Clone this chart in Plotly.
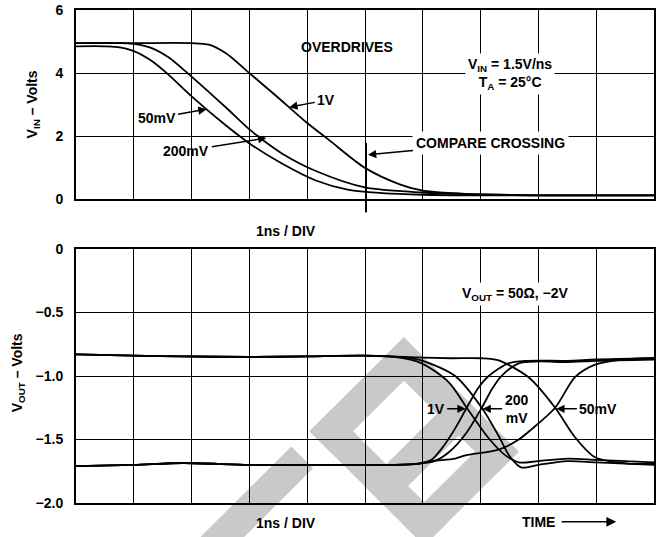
import plotly.graph_objects as go
import math

# ---------------- data ----------------
# Top panel: input voltage vs time (ns), three overdrives
t_in_1v = [0, 1, 2, 2.3, 2.6, 3.0, 3.45, 4.0, 4.38, 5.0, 5.6, 6.0, 6.5, 7.0, 8, 9, 10]
vin_1v = [4.95, 4.95, 4.95, 4.9, 4.62, 4.0, 3.3, 2.42, 1.88, 1.0, 0.48, 0.28, 0.2, 0.16, 0.13, 0.13, 0.13]

t_in_200 = [0, 0.8, 1.03, 1.3, 1.6, 1.93, 2.3, 2.59, 3.0, 3.22, 3.57, 4.15, 5.0, 6.0, 7.0, 8, 10]
vin_200 = [4.95, 4.95, 4.92, 4.8, 4.5, 4.0, 3.4, 2.92, 2.22, 1.9, 1.45, 0.9, 0.38, 0.22, 0.16, 0.13, 0.13]

t_in_50 = [0, 0.5, 0.69, 1.0, 1.3, 1.57, 2.01, 2.59, 3.02, 3.57, 4.15, 4.72, 5.3, 6, 7, 10]
vin_50 = [4.85, 4.85, 4.83, 4.7, 4.4, 4.0, 3.25, 2.35, 1.75, 1.13, 0.6, 0.3, 0.2, 0.15, 0.13, 0.13]

# Bottom panel: output voltage vs time (ns), falling and rising outputs
t_fall_1v = [0, 1, 1.85, 3, 4, 5, 5.5, 5.98, 6.45, 6.76, 7.14, 7.43, 7.66, 8.0, 8.5, 9, 10]
vout_fall_1v = [-0.83, -0.84, -0.845, -0.85, -0.845, -0.84, -0.85, -0.9, -1.05, -1.25, -1.49, -1.625, -1.68, -1.67, -1.65, -1.66, -1.68]

t_fall_200 = [0, 1, 1.85, 3, 4, 5, 5.7, 6.0, 6.56, 7.02, 7.31, 7.5, 7.7, 8.0, 8.5, 9, 10]
vout_fall_200 = [-0.83, -0.84, -0.845, -0.85, -0.845, -0.84, -0.855, -0.88, -1.0, -1.25, -1.47, -1.63, -1.72, -1.7, -1.67, -1.68, -1.7]

t_fall_50 = [0, 1, 1.85, 3, 4, 5, 6, 6.5, 7.0, 7.3, 7.83, 8.29, 8.63, 8.98, 9.55, 10]
vout_fall_50 = [-0.83, -0.84, -0.845, -0.85, -0.845, -0.84, -0.855, -0.86, -0.86, -0.875, -1.01, -1.25, -1.48, -1.64, -1.69, -1.69]

t_rise_1v = [0, 1, 1.85, 3, 4, 5, 5.5, 5.93, 6.15, 6.33, 6.55, 6.76, 6.95, 7.14, 7.48, 7.8, 8.5, 9, 10]
vout_rise_1v = [-1.71, -1.7, -1.685, -1.7, -1.7, -1.7, -1.7, -1.69, -1.66, -1.57, -1.42, -1.25, -1.1, -1.0, -0.9, -0.88, -0.88, -0.87, -0.86]

t_rise_200 = [0, 1, 1.85, 3, 4, 5, 5.5, 5.93, 6.2, 6.45, 6.75, 7.02, 7.2, 7.36, 7.66, 8.0, 8.5, 9, 10]
vout_rise_200 = [-1.71, -1.7, -1.685, -1.7, -1.7, -1.7, -1.7, -1.69, -1.67, -1.6, -1.45, -1.25, -1.1, -1.0, -0.9, -0.885, -0.89, -0.88, -0.87]

t_rise_50 = [0, 1, 1.85, 3, 4, 5, 5.5, 5.93, 6.16, 6.56, 6.74, 7.31, 7.66, 7.88, 8.29, 8.63, 8.98, 9.44, 10]
vout_rise_50 = [-1.71, -1.7, -1.685, -1.7, -1.7, -1.7, -1.7, -1.69, -1.67, -1.65, -1.625, -1.58, -1.5, -1.42, -1.25, -1.01, -0.91, -0.87, -0.857]

top_ticks = [0, 2, 4, 6]
top_ticktext = ["0", "2", "4", "6"]
bot_ticks = [-2.0, -1.5, -1.0, -0.5, 0]
bot_ticktext = ["\u22122.0", "\u22121.5", "\u22121.0", "\u22120.5", "0"]

# ---------------- layout helpers ----------------
W_FIG, H_FIG = 658, 537
ML, MR, MT, MB = 76, 2, 6, 34
PW = W_FIG - ML - MR
PH = H_FIG - MT - MB


def paper(x, y):
    return (x - ML) / PW, (H_FIG - MB - y) / PH


top_dom = [(H_FIG - MB - 197) / PH, 1.0]
bot_dom = [0.0, (H_FIG - MB - 247) / PH]

FONT = "Liberation Sans, Arial, Helvetica, sans-serif"
LW = 1.8

fig = go.Figure()
for xs, ys in [(t_in_1v, vin_1v), (t_in_200, vin_200), (t_in_50, vin_50)]:
    fig.add_trace(go.Scatter(x=xs, y=ys, mode="lines", line=dict(color="black", width=LW, shape="spline", smoothing=0.8),
                             xaxis="x", yaxis="y", showlegend=False, hoverinfo="skip"))
for xs, ys in [(t_fall_1v, vout_fall_1v), (t_fall_200, vout_fall_200), (t_fall_50, vout_fall_50),
               (t_rise_1v, vout_rise_1v), (t_rise_200, vout_rise_200), (t_rise_50, vout_rise_50)]:
    fig.add_trace(go.Scatter(x=xs, y=ys, mode="lines", line=dict(color="black", width=LW, shape="spline", smoothing=0.8),
                             xaxis="x2", yaxis="y2", showlegend=False, hoverinfo="skip"))

axis_common = dict(showgrid=True, gridcolor="black", gridwidth=1, showline=True, linecolor="black",
                   linewidth=2, mirror=True, zeroline=False)

fig.update_layout(
    width=W_FIG, height=H_FIG,
    margin=dict(l=ML, r=MR, t=MT, b=MB),
    paper_bgcolor="white", plot_bgcolor="rgba(0,0,0,0)",
    font=dict(family=FONT, color="black"),
    xaxis=dict(domain=[0, 1], range=[0, 10], dtick=1, tick0=0, showticklabels=False, ticks="", anchor="y", **axis_common),
    yaxis=dict(domain=top_dom, range=[0, 6], tickvals=top_ticks, ticktext=top_ticktext, ticks="outside",
               ticklen=8, tickcolor="rgba(0,0,0,0)", tickfont=dict(size=14, family=FONT, weight="bold"),
               anchor="x", **axis_common),
    xaxis2=dict(domain=[0, 1], range=[0, 10], dtick=1, tick0=0, showticklabels=False, ticks="", anchor="y2", **axis_common),
    yaxis2=dict(domain=bot_dom, range=[-2, 0], tickvals=bot_ticks, ticktext=bot_ticktext, ticks="outside",
                ticklen=8, tickcolor="rgba(0,0,0,0)", tickfont=dict(size=14, family=FONT, weight="bold"),
                anchor="x2", **axis_common),
)

# ---------------- watermark (gray rotated frame) ----------------
WM = "#c9c9c9"
TX, TY = 405, 336          # top vertex of rotated frame (pixels)
A_LEN, B_LEN, WB = 163, 134, 31
S2 = math.sqrt(2)


def rot(u, v):
    return TX + (u - v) / S2, TY + (u + v) / S2


def rect_path(u0, u1, v0, v1):
    pts = [rot(u0, v0), rot(u1, v0), rot(u1, v1), rot(u0, v1)]
    pp = [paper(x, y) for x, y in pts]
    return "M " + " L ".join(f"{a:.4f},{b:.4f}" for a, b in pp) + " Z"


def band(p1, p2, w):
    (x1, y1), (x2, y2) = p1, p2
    dx, dy = x2 - x1, y2 - y1
    L = math.hypot(dx, dy)
    nx, ny = -dy / L * w / 2, dx / L * w / 2
    pts = [(x1 + nx, y1 + ny), (x2 + nx, y2 + ny), (x2 - nx, y2 - ny), (x1 - nx, y1 - ny)]
    pp = [paper(x, y) for x, y in pts]
    return "M " + " L ".join(f"{a:.4f},{b:.4f}" for a, b in pp) + " Z"


wm_paths = [
    rect_path(0, WB, 0, B_LEN),                 # upper-left side
    rect_path(0, A_LEN, 0, WB),                 # upper-right side
    rect_path(A_LEN - WB, A_LEN, 0, B_LEN),     # lower-right side
    rect_path(0, A_LEN, B_LEN - WB, B_LEN),     # lower-left side
    rect_path(78, 78 + WB, 0, B_LEN),           # cross bar
    band((212, 548), (303, 457), WB),           # separate lower-left stroke
]
for p in wm_paths:
    fig.add_shape(type="path", path=p, xref="paper", yref="paper",
                  fillcolor=WM, line=dict(width=0), layer="below")

# compare crossing marker line
x0, y0 = paper(367, 140)
x1, y1 = paper(367, 210)
fig.add_shape(type="line", xref="paper", yref="paper", x0=x0, y0=y0, x1=x1, y1=y1,
              line=dict(color="black", width=2))

# ---------------- annotations ----------------
BF = dict(family=FONT, size=14, color="black", weight="bold")


def text_at(px, py, txt, bg=None, size=14, **kw):
    xp, yp = paper(px, py)
    d = dict(x=xp, y=yp, xref="paper", yref="paper", text=txt, showarrow=False,
             font=dict(BF, size=size), xanchor="center", yanchor="middle")
    if bg:
        d.update(bgcolor=bg, borderpad=2)
    d.update(kw)
    fig.add_annotation(**d)


def arrow_at(hx, hy, tx, ty, txt, size=14):
    xp, yp = paper(hx, hy)
    fig.add_annotation(x=xp, y=yp, xref="paper", yref="paper", text=txt, showarrow=True,
                       ax=tx - hx, ay=ty - hy, arrowhead=2, arrowsize=1.1, arrowwidth=1.5,
                       arrowcolor="black", font=dict(BF, size=size), standoff=0, startstandoff=1)


text_at(348, 43, "OVERDRIVES")
text_at(511, 71, "V<sub>IN</sub> = 1.5V/ns<br>T<sub>A</sub> = 25°C", bg="white", align="center")
arrow_at(290, 104, 327, 97, "1V")
arrow_at(207, 106, 157, 115, "50mV")
arrow_at(267, 135, 187, 148, "200mV")
xp, yp = paper(369, 152)
fig.add_annotation(x=xp, y=yp, xref="paper", yref="paper", text="COMPARE CROSSING", showarrow=True,
                   ax=123, ay=-12, arrowhead=2, arrowsize=1.1, arrowwidth=1.5, arrowcolor="black",
                   font=BF, bgcolor="white", borderpad=3)
text_at(287, 229, "1ns / DIV")

text_at(517, 292, "V<sub>OUT</sub> = 50Ω, \u22122V", bg="white")
arrow_at(467, 408, 437, 408, "1V")
arrow_at(484, 408, 518, 408, "200<br>mV")
arrow_at(558, 408, 600, 408, "50mV")
text_at(287, 523, "1ns / DIV")
text_at(540, 522, "TIME")
xp, yp = paper(618, 522)
fig.add_annotation(x=xp, y=yp, xref="paper", yref="paper", text="", showarrow=True, ax=-56, ay=0,
                   arrowhead=2, arrowsize=1.3, arrowwidth=1.5, arrowcolor="black", standoff=0)

text_at(33, 101, "V<sub>IN</sub> \u2013 Volts", textangle=-90)
text_at(18, 372, "V<sub>OUT</sub> \u2013 Volts", textangle=-90)

fig.write_html("out.html", config={"displayModeBar": False},
               post_script="document.body.style.margin='0px';document.body.style.padding='0px';")
